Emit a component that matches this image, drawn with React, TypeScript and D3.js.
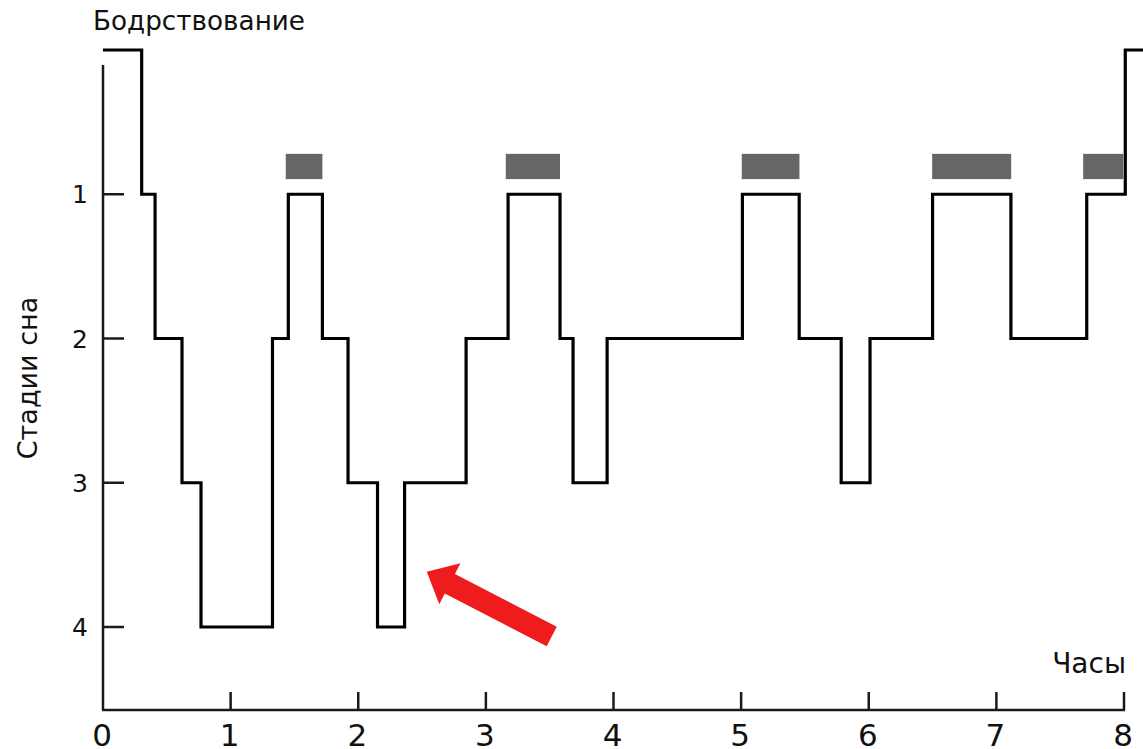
import React from "react";
import * as d3 from "d3";

// Hypnogram: time (hours) at which each stage begins, and the stage (0 = wakefulness)
const stageTimes = [0, 0.303, 0.408, 0.619, 0.768, 1.328, 1.452, 1.719, 1.92, 2.151, 2.363, 2.845, 3.174, 3.581, 3.683, 3.95, 5.01, 5.455, 5.784, 6.01, 6.5, 7.114, 7.708, 8.01, 8.2];
const stageValues = [0, 1, 2, 3, 4, 2, 1, 2, 3, 4, 3, 2, 1, 2, 3, 2, 1, 2, 3, 2, 1, 2, 1, 0, 0];

// REM periods (hours)
const remStarts = [1.432, 3.156, 5.005, 6.497, 7.68];
const remEnds = [1.719, 3.581, 5.457, 7.116, 7.994];

const xTicks = [0, 1, 2, 3, 4, 5, 6, 7, 8];
const yTicks = [1, 2, 3, 4];

const titleWake = "Бодрствование";
const yTitle = "Стадии сна";
const xTitle = "Часы";

// Arrow annotation (hours, stage)
const arrowTip = [2.537, 3.617];
const arrowTail = [3.516, 4.066];

export default function App() {
  const W = 1143;
  const H = 749;
  const x = d3.scaleLinear().domain([0, 8]).range([103, 1124]);
  const y = d3.scaleLinear().domain([0, 4]).range([50, 627]);
  const axisY = 710;
  const font = "'DejaVu Sans', sans-serif";

  const pts: [number, number][] = stageTimes.map((t, i) => [t, stageValues[i]]);
  const line = d3
    .line<[number, number]>()
    .x((d) => x(d[0]))
    .y((d) => y(d[1]))
    .curve(d3.curveStepAfter);

  // arrow polygon
  const tip = [x(arrowTip[0]), y(arrowTip[1])];
  const tail = [x(arrowTail[0]), y(arrowTail[1])];
  const dx = tip[0] - tail[0];
  const dy = tip[1] - tail[1];
  const len = Math.hypot(dx, dy);
  const ux = dx / len, uy = dy / len;
  const nx = -uy, ny = ux;
  const headLen = 26, headHalf = 23, shaftHalf = 11;
  const bx = tip[0] - ux * headLen, by = tip[1] - uy * headLen;
  const arrowPts = [
    [tip[0], tip[1]],
    [bx + nx * headHalf, by + ny * headHalf],
    [bx + nx * shaftHalf, by + ny * shaftHalf],
    [tail[0] + nx * shaftHalf, tail[1] + ny * shaftHalf],
    [tail[0] - nx * shaftHalf, tail[1] - ny * shaftHalf],
    [bx - nx * shaftHalf, by - ny * shaftHalf],
    [bx - nx * headHalf, by - ny * headHalf],
  ];

  return (
    <svg width={W} height={H} style={{ position: "absolute", left: 0, top: 0, background: "#fff" }}>
      <rect x={0} y={0} width={W} height={H} fill="#fff" />
      {/* REM bars */}
      {remStarts.map((s, i) => (
        <rect
          key={i}
          x={x(s)}
          y={y(0.72)}
          width={x(remEnds[i]) - x(s)}
          height={y(0.895) - y(0.72)}
          fill="#666666"
        />
      ))}
      {/* axes */}
      <line x1={x(0)} x2={x(0)} y1={65} y2={axisY} stroke="#1a1a1a" strokeWidth={2.5} />
      <line x1={x(0) - 1} x2={x(8) + 1} y1={axisY} y2={axisY} stroke="#1a1a1a" strokeWidth={2.5} />
      {yTicks.map((t) => (
        <g key={t}>
          <line x1={x(0)} x2={x(0) + 21} y1={y(t)} y2={y(t)} stroke="#1a1a1a" strokeWidth={2.5} />
          <text x={88} y={y(t) + 9} textAnchor="end" fontFamily={font} fontSize={25} fill="#111">
            {t}
          </text>
        </g>
      ))}
      {xTicks.map((t) => (
        <g key={t}>
          {t > 0 && (
            <line x1={x(t)} x2={x(t)} y1={axisY} y2={axisY - 18} stroke="#1a1a1a" strokeWidth={2.5} />
          )}
          <text x={x(t) - 1} y={746} textAnchor="middle" fontFamily={font} fontSize={31} fill="#111">
            {t}
          </text>
        </g>
      ))}
      {/* hypnogram */}
      <path d={line(pts) || ""} fill="none" stroke="#000" strokeWidth={3.2} strokeLinejoin="miter" />
      {/* arrow */}
      <polygon points={arrowPts.map((p) => p.join(",")).join(" ")} fill="#ee1c1c" />
      {/* texts */}
      <text x={93} y={30} fontFamily={font} fontSize={27} fill="#111" textLength={212} lengthAdjust="spacingAndGlyphs">
        {titleWake}
      </text>
      <text
        transform={`translate(37, 378) rotate(-90)`}
        textAnchor="middle"
        fontFamily={font}
        fontSize={27}
        fill="#111"
      >
        {yTitle}
      </text>
      <text x={1126} y={673} textAnchor="end" fontFamily={font} fontSize={28} fill="#111">
        {xTitle}
      </text>
    </svg>
  );
}
